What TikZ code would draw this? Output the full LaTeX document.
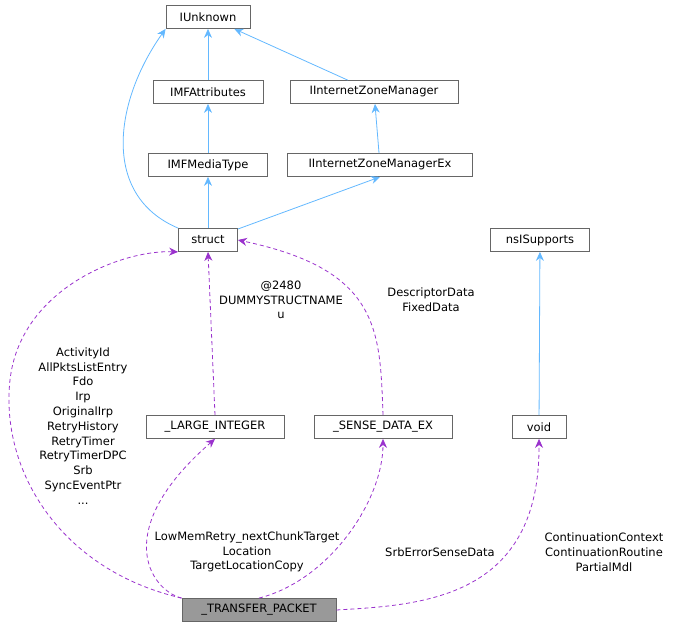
\documentclass[tikz,border=0pt]{standalone}
\usepackage{fontspec}
\setmainfont{DejaVu Sans}
\usetikzlibrary{arrows.meta}
\definecolor{inh}{HTML}{63B8FF}
\definecolor{use}{HTML}{9A32CD}
\begin{document}
\begin{tikzpicture}[x=1pt,y=-1pt,font=\fontsize{11.5}{14.8}\selectfont,line width=0.8pt]
\useasboundingbox (0,0) rectangle (678,631);
\tikzset{
    box/.style={draw=black!60,fill=white,inner sep=0pt,minimum height=23pt},
    inherit/.style={draw=inh,-{Stealth[length=9pt,width=8pt]}},
    usage/.style={draw=use,dash pattern=on 4pt off 3pt,-{Stealth[length=9pt,width=8pt]}},
    lbl/.style={align=center,inner sep=0pt}
}
\begin{scope}[every node/.style={box}]
    \node[minimum width=84pt] (unknown) at (208,17) {IUnknown};
    \node[minimum width=110pt] (attrs) at (208,92) {IMFAttributes};
    \node[minimum width=168pt] (zone) at (374,92) {IInternetZoneManager};
    \node[minimum width=119pt] (media) at (208,165) {IMFMediaType};
    \node[minimum width=185pt] (zoneex) at (380,165) {IInternetZoneManagerEx};
    \node[minimum width=59pt] (struct) at (208,240) {struct};
    \node[minimum width=99pt] (nssup) at (540,240) {nsISupports};
    \node[minimum width=138pt] (large) at (215,427) {\_LARGE\_INTEGER};
    \node[minimum width=138pt] (sense) at (383,427) {\_SENSE\_DATA\_EX};
    \node[minimum width=54pt] (void) at (539,427) {void};
    \node[minimum width=154pt,fill=black!40] (packet) at (259,610) {\_TRANSFER\_PACKET};
\end{scope}

% inheritance
\draw[inherit] (attrs) -- (unknown);
\draw[inherit] (zone) -- (unknown);
\draw[inherit] (media) -- (attrs);
\draw[inherit] (zoneex) -- (zone);
\draw[inherit] (struct) -- (media);
\draw[inherit] (struct) -- (zoneex.south);
\draw[inherit] (struct.north west) .. controls (100,195) and (115,100) .. (unknown.south west);
\draw[inherit] (void) -- (nssup);

% usage
\draw[usage] (packet.north west) .. controls (60,570) and (0,470) .. (10,380)
    .. controls (20,290) and (120,250) .. (struct.south west);
\draw[usage] (packet.north west) .. controls (150,590) and (110,530) .. (large.south);
\draw[usage] (large.north) -- (struct.south);
\draw[usage] (sense.north) .. controls (380,330) and (380,270) .. (struct.east);
\draw[usage] (packet.north) .. controls (330,580) and (383,500) .. (sense.south);
\draw[usage] (packet.east) .. controls (420,605) and (540,600) .. (void.south);

\node[lbl] (lact) at (83,426) {ActivityId\\AllPktsListEntry\\Fdo\\Irp\\OriginalIrp\\RetryHistory\\RetryTimer\\RetryTimerDPC\\Srb\\SyncEventPtr\\...};
\node[lbl] (llow) at (247,552) {LowMemRetry\_nextChunkTarget\\Location\\TargetLocationCopy};
\node[lbl] (ldum) at (281,300) {@2480\\DUMMYSTRUCTNAME\\u};
\node[lbl] (ldesc) at (431,300) {DescriptorData\\FixedData};
\node[lbl] (lsrb) at (440,552) {SrbErrorSenseData};
\node[lbl] (lcont) at (604,552) {ContinuationContext\\ContinuationRoutine\\PartialMdl};
\end{tikzpicture}
\end{document}
